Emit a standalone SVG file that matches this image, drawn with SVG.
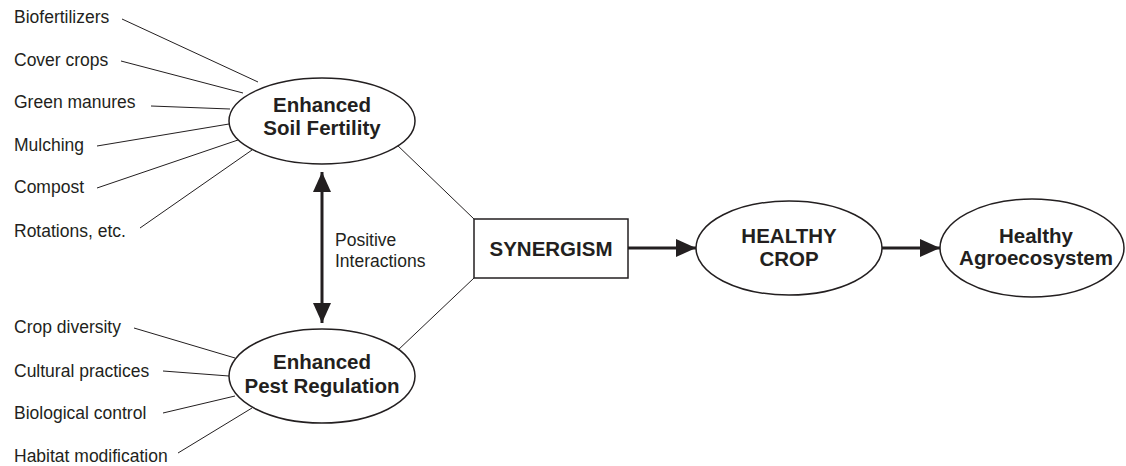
<svg xmlns="http://www.w3.org/2000/svg" width="1126" height="466" viewBox="0 0 1126 466">
<style>
.lbl{font-family:"Liberation Sans",Arial,sans-serif;font-size:17.5px;fill:#231f20}
.bold{font-family:"Liberation Sans",Arial,sans-serif;font-size:20.5px;font-weight:bold;fill:#231f20;text-anchor:middle}
.shape{fill:#fff;stroke:#231f20;stroke-width:1.5}
.thin{stroke:#231f20;stroke-width:1;fill:none}
.thick{stroke:#231f20;stroke-width:3;fill:none}
</style>
<defs>
<marker id="ah" viewBox="0 0 20 18" refX="20" refY="9" markerWidth="20" markerHeight="18" markerUnits="userSpaceOnUse" orient="auto-start-reverse">
<path d="M0,0 L20,9 L0,18 Z" fill="#231f20"/>
</marker>
</defs>
<rect width="1126" height="466" fill="#fff"/>
<g id="connectors">
<line class="thin" x1="122" y1="19" x2="258" y2="82"/>
<line class="thin" x1="121" y1="61" x2="243" y2="93"/>
<line class="thin" x1="151" y1="106" x2="230" y2="109"/>
<line class="thin" x1="97" y1="146" x2="229" y2="124"/>
<line class="thin" x1="97" y1="188" x2="238" y2="140"/>
<line class="thin" x1="140" y1="228" x2="252" y2="150"/>
<line class="thin" x1="134" y1="328" x2="235" y2="358"/>
<line class="thin" x1="163" y1="371" x2="229" y2="376"/>
<line class="thin" x1="163" y1="413" x2="235" y2="396"/>
<line class="thin" x1="178" y1="453" x2="252" y2="408"/>
<line class="thin" x1="395" y1="143" x2="474" y2="219"/>
<line class="thin" x1="397" y1="351" x2="474" y2="278"/>
<line class="thick" x1="322" y1="172" x2="322" y2="323" marker-start="url(#ah)" marker-end="url(#ah)"/>
<line class="thick" x1="628" y1="248" x2="696" y2="248" marker-end="url(#ah)"/>
<line class="thick" x1="882" y1="248" x2="940" y2="248" marker-end="url(#ah)"/>
</g>
<g id="labels">
<text class="lbl" x="14" y="23">Biofertilizers</text>
<text class="lbl" x="14" y="66">Cover crops</text>
<text class="lbl" x="14" y="108">Green manures</text>
<text class="lbl" x="14" y="151">Mulching</text>
<text class="lbl" x="14" y="193">Compost</text>
<text class="lbl" x="14" y="237">Rotations, etc.</text>
<text class="lbl" x="14" y="333">Crop diversity</text>
<text class="lbl" x="14" y="377">Cultural practices</text>
<text class="lbl" x="14" y="419">Biological control</text>
<text class="lbl" x="14" y="462">Habitat modification</text>
<text class="lbl" x="335" y="246">Positive</text>
<text class="lbl" x="335" y="267">Interactions</text>
</g>
<g id="soil">
<ellipse class="shape" cx="322" cy="121" rx="93" ry="43"/>
<text class="bold" x="322" y="112">Enhanced</text>
<text class="bold" x="322" y="135">Soil Fertility</text>
</g>
<g id="pest">
<ellipse class="shape" cx="322" cy="376" rx="93" ry="47"/>
<text class="bold" x="322" y="369">Enhanced</text>
<text class="bold" x="322" y="393">Pest Regulation</text>
</g>
<g id="synergism">
<rect class="shape" x="474" y="219" width="154" height="59"/>
<text class="bold" x="551" y="256">SYNERGISM</text>
</g>
<g id="crop">
<ellipse class="shape" cx="789" cy="248" rx="93" ry="47"/>
<text class="bold" x="789" y="243">HEALTHY</text>
<text class="bold" x="789" y="266">CROP</text>
</g>
<g id="agro">
<ellipse class="shape" cx="1032" cy="248" rx="92" ry="49"/>
<text class="bold" x="1036" y="243">Healthy</text>
<text class="bold" x="1036" y="265">Agroecosystem</text>
</g>
</svg>
